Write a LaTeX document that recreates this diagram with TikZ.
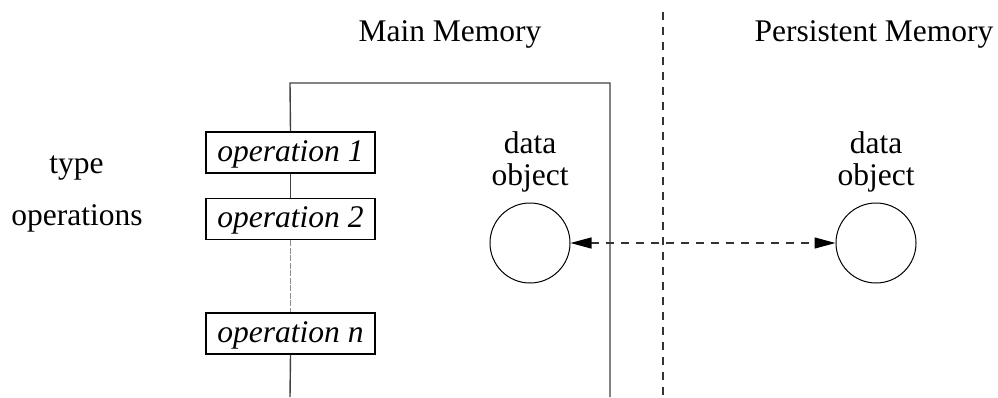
\documentclass[tikz,border=0pt]{standalone}
\usepackage{fontspec}
\setmainfont{Liberation Serif}
\usetikzlibrary{arrows.meta}
\begin{document}
\begin{tikzpicture}[x=1pt,y=-1pt,
  txt/.style={font=\fontsize{31.5}{33}\selectfont, inner sep=0pt},
  opbox/.style={draw=black, line width=1.3pt, fill=white,
    minimum width=169pt, minimum height=41pt, inner sep=0pt,
    text height=23pt, text depth=6pt,
    font=\fontsize{31.5}{33}\selectfont\itshape},
  frameline/.style={draw=black!75, line width=1.4pt},
  objcircle/.style={draw=black, line width=1pt, circle, minimum size=80pt, inner sep=0pt},
  sepline/.style={draw=black!80, line width=1.3pt, dash pattern=on 8pt off 7pt},
  link/.style={draw=black!80, line width=1.3pt, dash pattern=on 8pt off 7pt,
    {Triangle[length=21pt,width=11pt,color=black]}-{Triangle[length=21pt,width=11pt,color=black]}}
]
\useasboundingbox (0,0) rectangle (998,397);

% column headings
\node[txt, anchor=base] (mainmem) at (450,41) {Main Memory};
\node[txt, anchor=base] (persmem) at (874,41) {Persistent Memory};

% side label
\node[txt, anchor=base] (typelbl) at (76.5,173) {type};
\node[txt, anchor=base] (opslbl) at (77,225) {operations};

% operations of the type
\node[opbox] (op1) at (290.5,152.5) {operation 1};
\node[opbox] (op2) at (290.5,219) {operation 2};
\node[opbox] (opn) at (290.5,333.5) {operation n};

% frame around the main memory type
\coordinate (ftl) at (290,83);
\coordinate (ftr) at (610,83);
\coordinate (fbr) at (610,397);
\coordinate (fbl) at (290,397);
\draw[frameline] (op1.north) -- (ftl) -- (ftr) -- (fbr);
\draw[frameline] (op1.south) -- (op2.north);
\draw[draw=black!45, line width=1.3pt, dash pattern=on 6pt off 1.5pt] (op2.south) -- (opn.north);
\draw[frameline] (opn.south) -- (fbl);

% boundary between main and persistent memory
\coordinate (septop) at (663,12);
\coordinate (sepbot) at (663,397);
\draw[sepline] (septop) -- (sepbot);

% data objects
\node[objcircle] (objmain) at (530,243) {};
\node[objcircle] (objpers) at (876,243) {};
\node[txt, align=center, anchor=base] (lblmain) at (530,185) {data\\[-1pt]object};
\node[txt, align=center, anchor=base] (lblpers) at (876,185) {data\\[-1pt]object};

% transfer between memories
\draw[link] (objmain) -- (objpers);
\end{tikzpicture}
\end{document}
